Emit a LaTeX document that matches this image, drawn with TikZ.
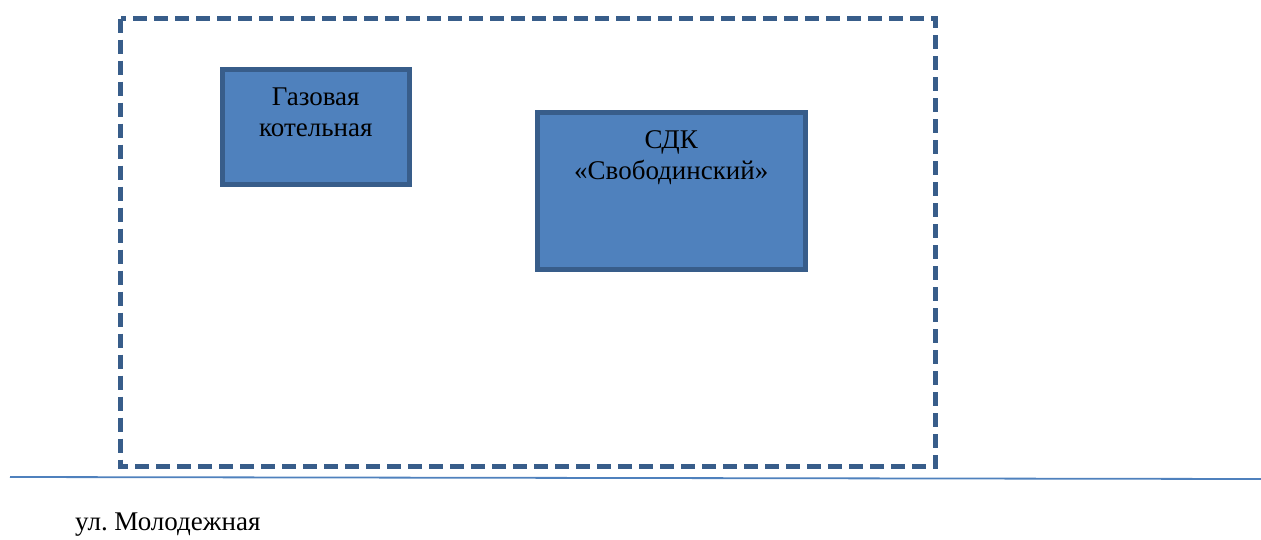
\documentclass[tikz,border=0pt]{standalone}
\usepackage{fontspec}
\setmainfont{Liberation Serif}
\frenchspacing
\definecolor{boxfill}{HTML}{4F81BD}
\definecolor{boxedge}{HTML}{385D8A}
\definecolor{roadline}{HTML}{4F81BD}
\begin{document}
\begin{tikzpicture}[x=1pt,y=-1pt,
  building/.style={draw=boxedge,fill=boxfill,line width=5pt,inner sep=0pt},
  lbl/.style={font=\fontsize{27}{31}\selectfont\frenchspacing,align=center,inner sep=0pt,text=black},
  sitebox/.style={draw=boxedge,line width=5pt,dash pattern=on 14pt off 7pt},
  road/.style={draw=roadline,line width=1.8pt}]
\useasboundingbox (0,0) rectangle (1261,539);
\draw[sitebox] (120.5,18.5) rectangle (935.5,466);
\node[building,minimum width=186.5pt,minimum height=114.5pt] (b1) at (315.75,126.75) {};
\node[lbl,anchor=north] (t1) at ([yshift=-21pt]b1.north) {Газовая\\котельная};
\node[building,minimum width=268.5pt,minimum height=156.5pt] (b2) at (671.25,190.75) {};
\node[lbl,anchor=north] (t2) at ([yshift=-20pt]b2.north) {СДК\\«Свободинский»};
\coordinate (r1) at (10,477);
\coordinate (r2) at (1261,479);
\draw[road] (r1) -- (r2);
\node[lbl,anchor=west] (street) at (75,525) {ул. Молодежная};
\end{tikzpicture}
\end{document}
